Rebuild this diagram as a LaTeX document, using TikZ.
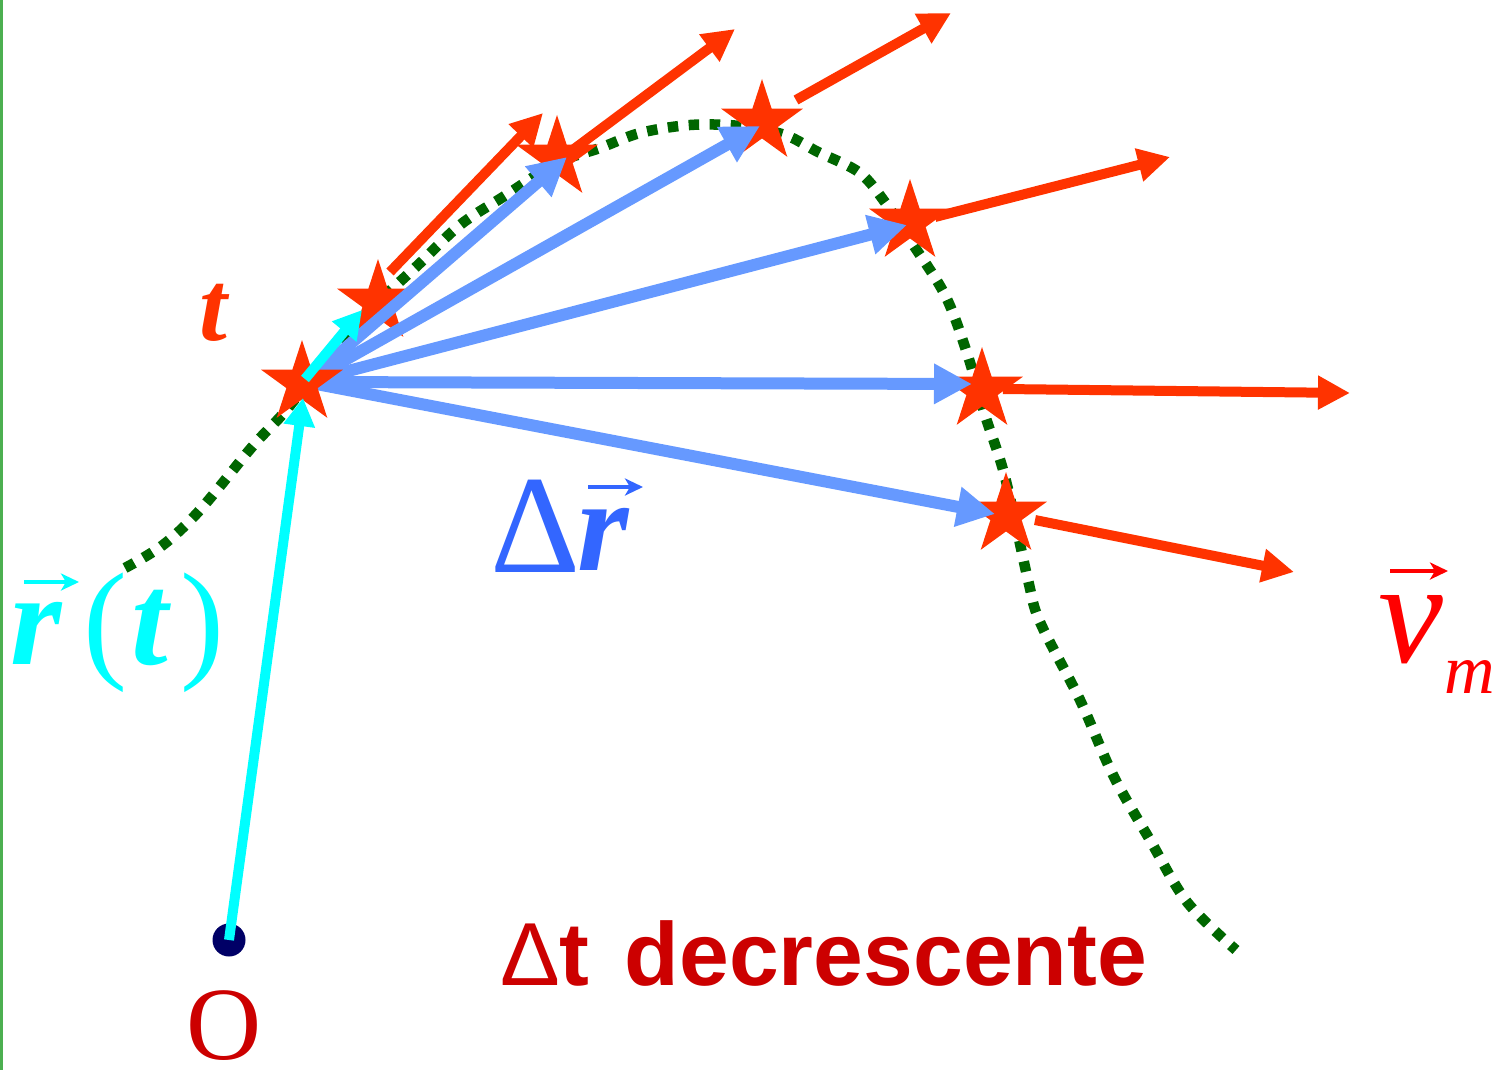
\documentclass[tikz,border=0pt]{standalone}
\usepackage{fontspec}
\setmainfont{Liberation Serif}
\newfontfamily\sansf{Liberation Sans}
\usetikzlibrary{arrows.meta,shapes.geometric}
\definecolor{starred}{HTML}{FF3300}
\definecolor{arrblue}{HTML}{6699FF}
\definecolor{labblue}{HTML}{3366FF}
\definecolor{cyanc}{HTML}{00FFFF}
\definecolor{vred}{HTML}{FF0000}
\definecolor{darkred}{HTML}{CC0000}
\definecolor{navyc}{HTML}{000066}
\definecolor{dotgreen}{HTML}{006600}
\definecolor{edgegreen}{HTML}{4CAF50}
\tikzset{
  starnode/.style={star, star points=5, star point ratio=2.618, minimum size=86pt, inner sep=0pt, fill=starred, draw=none},
  bluearr/.style={draw=arrblue, line width=12pt, -{Triangle[length=38pt,width=38pt]}},
  redarr/.style={draw=starred, line width=10pt, -{Triangle[length=32pt,width=32pt]}},
  cyanarr/.style={draw=cyanc, line width=10pt, -{Triangle[length=28pt,width=30pt]}},
  accent/.style={line width=4.5pt, -{Stealth[length=18pt,width=17pt,inset=5pt]}},
  dotline/.style={draw=dotgreen, line width=10.5pt, dash pattern=on 10.5pt off 10.5pt},
  lab/.style={inner sep=0pt, anchor=base},
}
\begin{document}
\begin{tikzpicture}[x=1pt,y=-1pt]
\useasboundingbox (0,0) rectangle (1504,1070);
\fill[edgegreen] (0,0) rectangle (2.5,1070);

% trajectory
\draw[dotline] plot[smooth, tension=0.55] coordinates {
 (125,568) (163,545) (200,510) (252,447) (282,415) (302,390) (340,340) (378,302)
 (418,265) (460,225) (503,197) (557,163) (600,148) (640,133) (690,125) (740,126)
 (785,135) (818,152) (860,173) (887,205) (910,240) (945,295) (967,353) (985,415)
 (1005,477) (1028,580) (1040,622) (1080,700) (1113,775) (1150,840) (1187,902) (1236,950)};

% stars
\node[starnode] (s1) at (378,302) {};
\node[starnode] (s2) at (557,158) {};
\node[starnode] (s3) at (762,122) {};
\node[starnode] (s4) at (910,222) {};
\node[starnode] (s5) at (982,390) {};
\node[starnode] (s6) at (1006,515) {};

% blue displacement arrows
\coordinate (b2) at (567,157);
\coordinate (b3) at (760,126);
\coordinate (b4) at (907,225);
\coordinate (b5) at (972,384);
\coordinate (b6) at (995,514);
\coordinate (b0) at (306,382);
\draw[bluearr] (b0) -- (b2);
\draw[bluearr] (b0) -- (b3);
\draw[bluearr] (b0) -- (b4);
\draw[bluearr] (b0) -- (b5);
\draw[bluearr] (b0) -- (b6);

\node[starnode] (s0) at (302,383) {};

% red velocity arrows
\coordinate (v1a) at (390,272); \coordinate (v1b) at (543,113);
\coordinate (v2a) at (566,155); \coordinate (v2b) at (735,29);
\coordinate (v3a) at (796,100); \coordinate (v3b) at (951,13);
\coordinate (v4a) at (935,217); \coordinate (v4b) at (1170,157);
\coordinate (v5a) at (1003,389); \coordinate (v5b) at (1350,393);
\coordinate (v6a) at (1035,520); \coordinate (v6b) at (1294,572);
\draw[redarr] (v1a) -- (v1b);
\draw[redarr] (v2a) -- (v2b);
\draw[redarr] (v3a) -- (v3b);
\draw[redarr] (v4a) -- (v4b);
\draw[redarr] (v5a) -- (v5b);
\draw[redarr] (v6a) -- (v6b);

% origin and position vector
\node[circle, fill=navyc, minimum size=33pt, inner sep=0pt] (O) at (229,940) {};
\coordinate (c1) at (303,398);
\coordinate (c0) at (305,379);
\coordinate (c2) at (362,310);
\draw[cyanarr] (O.center) -- (c1);
\draw[cyanarr] (c0) -- (c2);

% labels
\node[lab, text depth=0pt, text=darkred, font=\fontsize{104}{104}\selectfont] (Olab) at (224,1059) {O};
\node[lab, text=starred, font=\fontsize{100}{100}\selectfont\bfseries\itshape] (tlab) at (213,340) {t};

\node[lab, text=cyanc, font=\fontsize{132}{132}\selectfont\bfseries\itshape] (rr) at (36,664) {r};
\node[lab, text=cyanc, font=\fontsize{132}{132}\selectfont] (lp) at (105,664) {(};
\node[lab, text=cyanc, font=\fontsize{132}{132}\selectfont\bfseries\itshape] (rt) at (150,664) {t};
\node[lab, text=cyanc, font=\fontsize{132}{132}\selectfont] (rp) at (202,664) {)};
\coordinate (ra1) at (24,582); \coordinate (ra2) at (79,582);
\draw[accent, draw=cyanc, fill=cyanc] (ra1) -- (ra2);

\node[lab, text=labblue, font=\fontsize{140}{140}\selectfont] (dD) at (536,572) {Δ};
\node[lab, text=labblue, font=\fontsize{132}{132}\selectfont\bfseries\itshape] (dr) at (603,570) {r};
\coordinate (da1) at (588,487); \coordinate (da2) at (643,487);
\draw[accent, draw=labblue, fill=labblue] (da1) -- (da2);

\node[lab, text=vred, font=\fontsize{146}{146}\selectfont\itshape] (vv) at (1411,662) {v};
\node[lab, text=vred, font=\fontsize{70}{70}\selectfont\itshape] (vm) at (1470,693) {m};
\coordinate (va1) at (1390,571); \coordinate (va2) at (1448,571);
\draw[accent, draw=vred, fill=vred] (va1) -- (va2);

\node[inner sep=0pt, anchor=base west, text=darkred, font=\sansf\fontsize{89.5}{89.5}\selectfont] (dt) at (500,985) {Δ\textbf{t}\hspace{35pt}\textbf{decrescente}};
\end{tikzpicture}
\end{document}
